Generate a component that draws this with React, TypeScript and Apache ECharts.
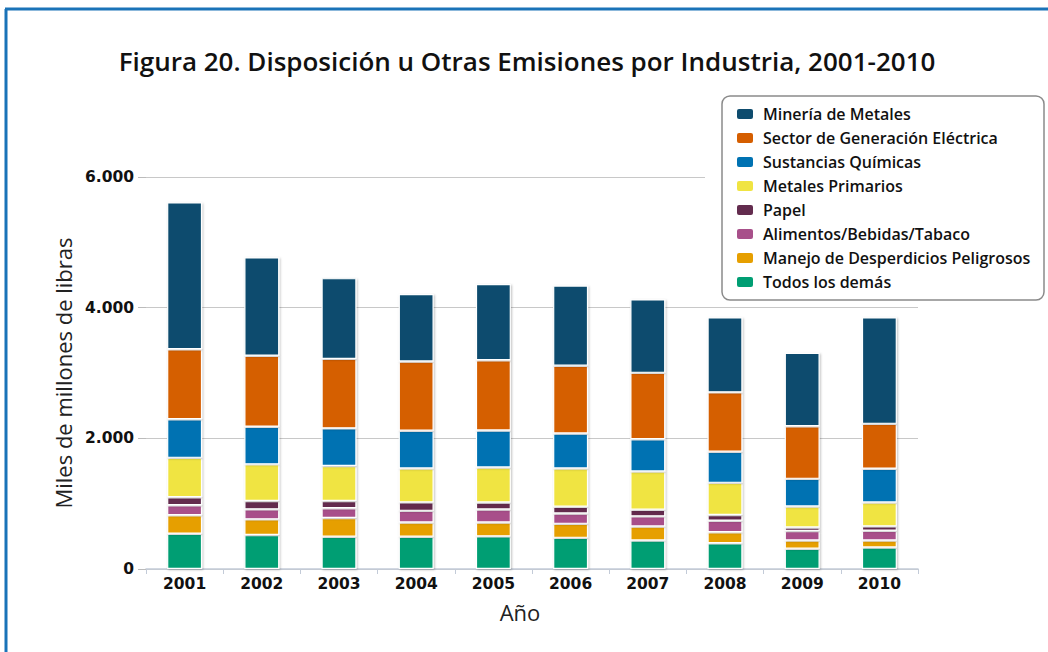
import React, { useEffect, useRef } from "react";
import * as echarts from "echarts";

const years = ["2001", "2002", "2003", "2004", "2005", "2006", "2007", "2008", "2009", "2010"];

// Values in thousands of millions of pounds (stack order: bottom to top)
const todosLosDemas = [540, 520, 494, 494, 500, 477, 436, 393, 309, 329];
const manejoDesperdicios = [282, 240, 286, 217, 211, 214, 214, 170, 127, 107];
const alimentos = [153, 153, 150, 179, 199, 158, 156, 176, 145, 150];
const papel = [124, 128, 111, 130, 107, 104, 101, 87, 54, 67];
const metalesPrimarios = [602, 561, 535, 518, 536, 585, 585, 493, 321, 364];
const sustanciasQuimicas = [591, 576, 576, 578, 566, 535, 494, 476, 424, 518];
const generacionElectrica = [1071, 1087, 1064, 1059, 1076, 1038, 1016, 908, 805, 687];
const mineriaMetales = [2248, 1505, 1236, 1033, 1166, 1229, 1125, 1148, 1125, 1629];

const seriesDefs = [
  { name: "Todos los demás", data: todosLosDemas, color: "#009e73" },
  { name: "Manejo de Desperdicios Peligrosos", data: manejoDesperdicios, color: "#e69f00" },
  { name: "Alimentos/Bebidas/Tabaco", data: alimentos, color: "#a8508a" },
  { name: "Papel", data: papel, color: "#632c4e" },
  { name: "Metales Primarios", data: metalesPrimarios, color: "#f0e442" },
  { name: "Sustancias Químicas", data: sustanciasQuimicas, color: "#0072b2" },
  { name: "Sector de Generación Eléctrica", data: generacionElectrica, color: "#d55e00" },
  { name: "Minería de Metales", data: mineriaMetales, color: "#0e4c6e" },
];

const legendOrder = seriesDefs.map((s) => s.name).reverse();
const yTicks = { min: 0, max: 6000, interval: 2000 };

export default function App() {
  const ref = useRef<HTMLDivElement>(null);
  useEffect(() => {
    document.body.style.margin = "0";
    if (!ref.current) return;
    const chart = echarts.init(ref.current, undefined, { renderer: "svg" });
    chart.setOption({
      animation: false,
      backgroundColor: "#ffffff",
      title: {
        text: "Figura 20. Disposición u Otras Emisiones por Industria, 2001-2010",
        left: 527,
        textAlign: "center",
        top: 48,
        padding: 0,
        textStyle: {
          fontFamily: "Open Sans",
          fontSize: 26,
          fontWeight: 600,
          color: "#111",
        },
      },
      graphic: [
        { type: "line", shape: { x1: 6, y1: 9, x2: 6, y2: 652 }, style: { stroke: "#1a73b8", lineWidth: 3 }, z: 10 },
        { type: "line", shape: { x1: 5, y1: 9, x2: 1048, y2: 9 }, style: { stroke: "#1a73b8", lineWidth: 3 }, z: 10 },
        { type: "rect", shape: { x: 705, y: 94, width: 342, height: 210 }, style: { fill: "#ffffff" }, z: 3 },
        {
          type: "rect",
          shape: { x: 722, y: 96, width: 322, height: 204, r: 8 },
          style: { fill: "#ffffff", stroke: "#8a8a8a", lineWidth: 1.5 },
          z: 3,
        },
      ],
      legend: {
        data: legendOrder,
        orient: "vertical",
        left: 735,
        top: 106,
        padding: 0,
        itemGap: 8,
        itemWidth: 18,
        itemHeight: 12,
        icon: "roundRect",
        z: 5,
        textStyle: {
          fontFamily: "Open Sans",
          fontSize: 16,
          fontWeight: 600,
          color: "#111",
          padding: [0, 0, 0, 4],
        },
      },
      grid: { left: 146, right: 130, top: 177, bottom: 83 },
      xAxis: {
        type: "category",
        data: years,
        name: "Año",
        nameLocation: "middle",
        nameGap: 32,
        nameTextStyle: {
          fontFamily: "Open Sans",
          fontSize: 22,
          color: "#222",
          padding: [0, 24, 0, 0],
        },
        axisLine: { show: true, lineStyle: { color: "#c3cbd8", width: 1.5 } },
        axisTick: { show: true, length: 5, lineStyle: { color: "#c3cbd8" } },
        axisLabel: {
          margin: 7,
          fontFamily: "DejaVu Sans",
          fontWeight: "bold",
          fontSize: 15.5,
          color: "#111",
        },
      },
      yAxis: {
        type: "value",
        min: yTicks.min,
        max: yTicks.max,
        interval: yTicks.interval,
        name: "Miles de millones de libras",
        nameLocation: "middle",
        nameGap: 70,
        nameTextStyle: {
          fontFamily: "Open Sans",
          fontSize: 22,
          color: "#222",
        },
        axisLine: { show: false },
        axisTick: { show: true, length: 8, lineStyle: { color: "#bbbbbb" } },
        splitLine: { show: true, lineStyle: { color: "#c8c8c8", width: 1 } },
        axisLabel: {
          margin: 12,
          fontFamily: "DejaVu Sans",
          fontWeight: "bold",
          fontSize: 15.5,
          color: "#111",
          formatter: (v: number) => (v === 0 ? "0" : (v / 1000).toFixed(3)),
        },
      },
      series: seriesDefs.map((s) => ({
        name: s.name,
        type: "bar",
        stack: "total",
        data: s.data,
        barWidth: 35,
        itemStyle: {
          color: s.color,
          borderColor: "#ffffff",
          borderWidth: 1.2,
          shadowColor: "rgba(0,0,0,0.25)",
          shadowBlur: 2,
          shadowOffsetX: 1,
          shadowOffsetY: 1,
        },
      })),
    });
    return () => chart.dispose();
  }, []);
  return <div ref={ref} style={{ width: 1048, height: 652 }} />;
}
